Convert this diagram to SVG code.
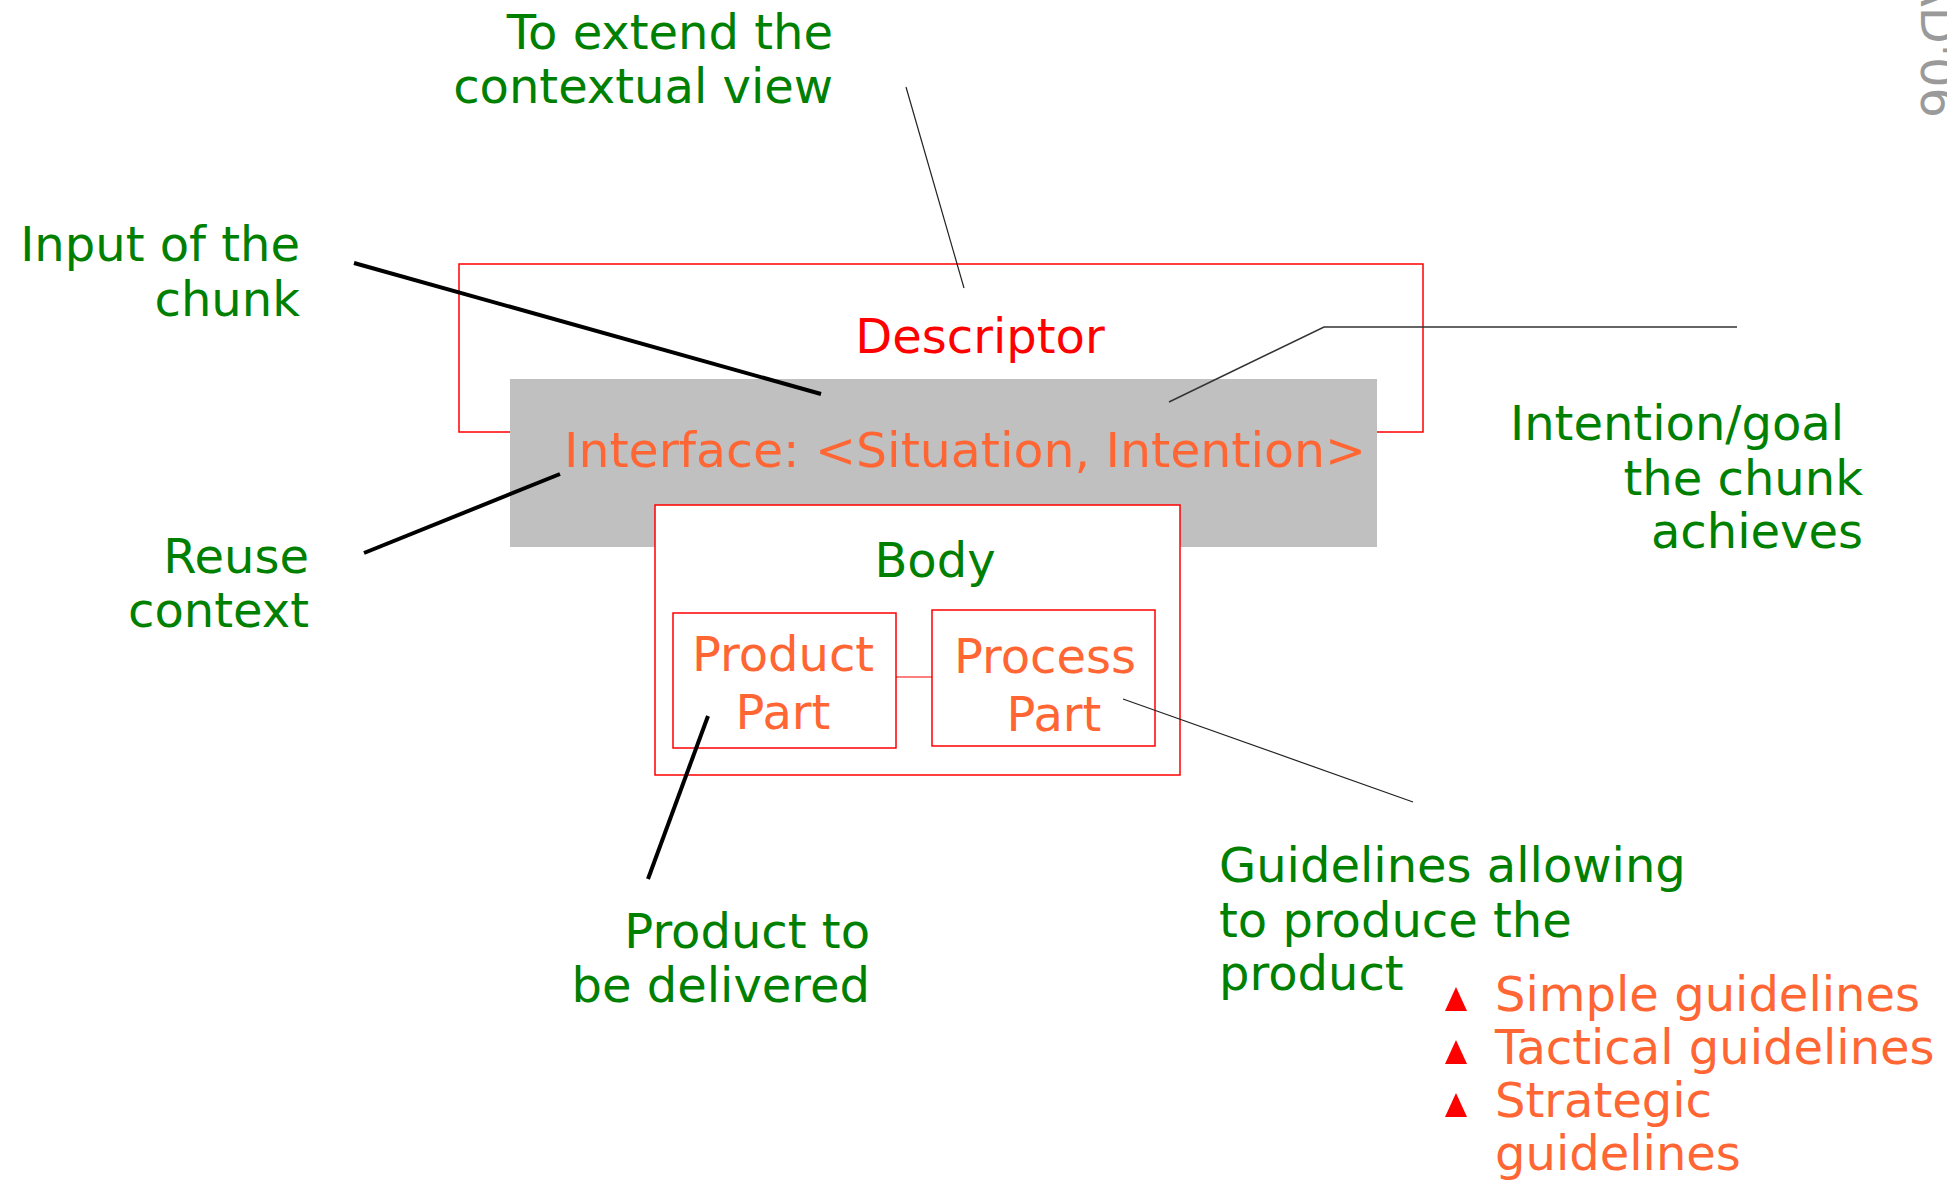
<svg xmlns="http://www.w3.org/2000/svg" width="1947" height="1184" viewBox="0 0 1947 1184">
  <style>
    text { font-family: "DejaVu Sans", Verdana, sans-serif; font-size: 48px; }
    .note { fill: #008000; }
    .orange { fill: #FF6633; }
    .red { fill: #FF0000; }
    .end { text-anchor: end; }
    .mid { text-anchor: middle; }
    .frame { fill: #FFFFFF; stroke: #FF0000; stroke-width: 1.5; }
    .thick { stroke: #000000; stroke-width: 4; fill: none; }
    .thin { stroke: #222222; stroke-width: 1.2; fill: none; }
    .bullet { fill: #FF0000; }
  </style>

  <!-- rotated footer tag, running off the right edge -->
  <text transform="translate(1921,-26) rotate(90)" style="fill:#9A9A9A; font-size:48px">AD'06</text>

  <!-- method chunk structure -->
  <g id="descriptor">
    <rect class="frame" x="459" y="264" width="964" height="168"/>
    <text class="red mid" x="980" y="353">Descriptor</text>
  </g>
  <g id="interface">
    <rect x="510" y="379" width="867" height="168" fill="#C0C0C0"/>
    <text class="orange" x="564" y="467" textLength="802" lengthAdjust="spacingAndGlyphs">Interface: &lt;Situation, Intention&gt;</text>
  </g>
  <g id="body">
    <rect class="frame" x="655" y="505" width="525" height="270"/>
    <text class="note mid" x="935" y="577">Body</text>
  </g>
  <g id="product-part">
    <rect class="frame" x="673" y="613" width="223" height="135"/>
    <text class="orange mid" x="783" y="671">Product</text>
    <text class="orange mid" x="783" y="729">Part</text>
  </g>
  <g id="process-part">
    <rect class="frame" x="932" y="610" width="223" height="136"/>
    <text class="orange mid" x="1045" y="673">Process</text>
    <text class="orange mid" x="1054" y="731">Part</text>
  </g>

  <!-- annotation texts -->
  <g id="note-context-view">
    <text class="note end" x="833" y="49">To extend the</text>
    <text class="note end" x="833" y="103">contextual view</text>
  </g>
  <g id="note-input">
    <text class="note end" x="300" y="261">Input of the</text>
    <text class="note end" x="300" y="316">chunk</text>
  </g>
  <g id="note-reuse">
    <text class="note end" x="309" y="573">Reuse</text>
    <text class="note end" x="309" y="627">context</text>
  </g>
  <g id="note-intention">
    <text class="note" x="1510" y="440">Intention/goal</text>
    <text class="note end" x="1863" y="495">the chunk</text>
    <text class="note end" x="1863" y="548">achieves</text>
  </g>
  <g id="note-product">
    <text class="note end" x="870" y="948">Product to</text>
    <text class="note end" x="870" y="1002">be delivered</text>
  </g>
  <g id="note-guidelines">
    <text class="note" x="1219" y="882">Guidelines allowing</text>
    <text class="note" x="1219" y="937">to produce the</text>
    <text class="note" x="1219" y="990">product</text>
  </g>
  <g id="guideline-kinds">
    <polygon class="bullet" points="1445,1011 1467,1011 1456,987"/>
    <text class="orange" x="1495" y="1011">Simple guidelines</text>
    <polygon class="bullet" points="1445,1064 1467,1064 1456,1040"/>
    <text class="orange" x="1495" y="1064">Tactical guidelines</text>
    <polygon class="bullet" points="1445,1117 1467,1117 1456,1093"/>
    <text class="orange" x="1495" y="1117">Strategic</text>
    <text class="orange" x="1495" y="1170">guidelines</text>
  </g>

  <!-- connectors -->
  <g id="connectors">
    <line x1="896" y1="677" x2="932" y2="677" stroke="#FF0000" stroke-width="1.2"/>
    <line class="thin" x1="906" y1="87" x2="964" y2="288"/>
    <line class="thick" x1="354" y1="263" x2="821" y2="394"/>
    <polyline class="thin" points="1169,402 1324,327 1737,327" style="stroke:#333333; stroke-width:1.5"/>
    <line class="thick" x1="364" y1="553" x2="560" y2="474"/>
    <line class="thick" x1="708" y1="716" x2="648" y2="879"/>
    <line class="thin" x1="1123" y1="699" x2="1413" y2="802"/>
  </g>
</svg>
